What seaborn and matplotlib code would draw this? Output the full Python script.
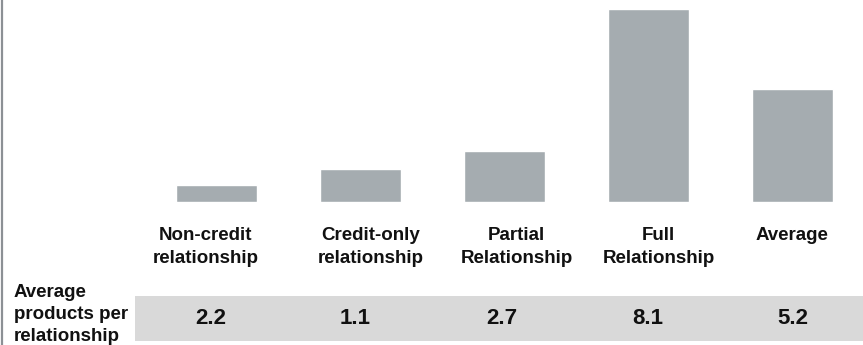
import matplotlib
matplotlib.use("Agg")
import matplotlib.pyplot as plt
import matplotlib.transforms as mtransforms
from matplotlib.patches import Rectangle
from matplotlib.lines import Line2D
import pandas as pd
import seaborn as sns

# Relationship segments
categories = ["Non-credit\nrelationship", "Credit-only\nrelationship",
              "Partial\nRelationship", "Full\nRelationship", "Average"]
# Bar heights (index, Average = 100)
bar_values = [15, 29, 45, 171, 100]
# Table row: average products per relationship
products_per_relationship = [2.2, 1.1, 2.7, 8.1, 5.2]
row_label = "Average\nproducts per\nrelationship"

# Horizontal nudges (pixels) for the segment captions
label_nudge = [-11, 10, 12, 10, -1]
value_nudge = [-6, -5, -3, -1, 0]

sns.set_theme(style="white")
plt.rcParams["font.family"] = ["Liberation Sans", "DejaVu Sans"]

W, H = 863, 345
fig = plt.figure(figsize=(W / 100, H / 100), dpi=100)

# Axes placed so the five bars sit on a 144 px pitch above the baseline
ax = fig.add_axes([144.5 / W, 143 / H, 720 / W, 193 / H])
df = pd.DataFrame({"segment": categories, "value": bar_values})
sns.barplot(data=df, x="segment", y="value", color="#a5acb0",
            saturation=1, width=0.5625, ax=ax)
ax.set_xlim(-0.5, 4.5)
ax.set_ylim(0, max(bar_values))
for s in ax.spines.values():
    s.set_visible(False)
ax.set_yticks([])
ax.set_xticks([])
ax.set_xlabel("")
ax.set_ylabel("")

# Segment captions under the bars
cap_trans = mtransforms.blended_transform_factory(ax.transData, ax.transAxes)
for i, lab in enumerate(categories):
    t = mtransforms.offset_copy(cap_trans, fig=fig, x=label_nudge[i],
                                y=-25.5, units="dots")
    ax.text(i, 0, lab, transform=t, ha="center", va="top",
            multialignment="center", fontsize=13.5, fontweight="bold",
            color="#111111", linespacing=1.45, clip_on=False)

# Grey table band
fig.patches.append(Rectangle((135 / W, 4 / H), (W - 135) / W, 45 / H,
                             transform=fig.transFigure, facecolor="#d9d9d9",
                             edgecolor="none", zorder=-5))
val_trans = mtransforms.blended_transform_factory(ax.transData, fig.transFigure)
for i, v in enumerate(products_per_relationship):
    t = mtransforms.offset_copy(val_trans, fig=fig, x=value_nudge[i],
                                y=0, units="dots")
    ax.text(i, 27 / H, f"{v:.1f}", transform=t, ha="center",
            va="center", fontsize=16, fontweight="bold", color="#111111",
            clip_on=False, zorder=10)

fig.text(14 / W, 30.5 / H, row_label, ha="left", va="center", fontsize=13.5,
         fontweight="bold", color="#111111", linespacing=1.42)

# Left rule
fig.lines.append(Line2D([2 / W, 2 / W], [0, 1], transform=fig.transFigure,
                        color="#8c9095", linewidth=1.6))

fig.savefig("out.png", dpi=100)
